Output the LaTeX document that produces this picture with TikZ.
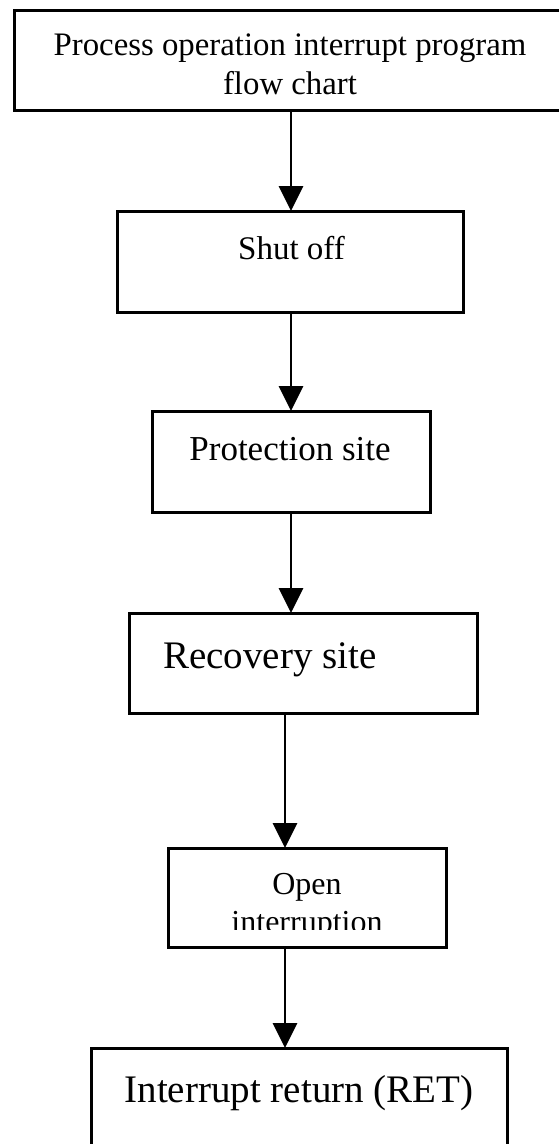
\documentclass[tikz,border=0pt]{standalone}
\usepackage{fontspec}
\setmainfont{Liberation Serif}
\usetikzlibrary{arrows.meta}

\begin{document}
\begin{tikzpicture}[x=1pt, y=1pt,
  stepbox/.style={draw, line width=3pt, inner sep=0pt, outer sep=0pt},
  flow/.style={-{Triangle[length=25pt, width=24pt]}, line width=2.8pt},
  txt/.style={anchor=base, align=center, inner sep=0pt}]

  \useasboundingbox (0,0) rectangle (559,-1144);

  %% Boxes (centre, width x height)
  \node[stepbox, minimum width=552pt, minimum height=100pt] (proc) at (290,-60) {};
  \node[stepbox, minimum width=346pt, minimum height=101pt] (shut) at (290,-261.5) {};
  \node[stepbox, minimum width=278pt, minimum height=101pt] (prot) at (291,-461.5) {};
  \node[stepbox, minimum width=348pt, minimum height=100pt] (recov) at (303,-663) {};
  \node[stepbox, minimum width=278pt, minimum height=99pt] (open) at (307,-897.5) {};
  \node[stepbox, minimum width=416pt, minimum height=112pt] (ret) at (299,-1104) {};

  %% Texts (sit in the upper part of each box; base = last line)
  \node[txt, font=\fontsize{32.8}{39}\selectfont] (proct) at (290,-94)
    {Process operation interrupt program\\flow chart};
  \node[txt, font=\fontsize{33}{38}\selectfont] (shutt) at (291.5,-259) {Shut off};
  \node[txt, font=\fontsize{35}{38}\selectfont] (prott) at (290,-460) {Protection site};
  \node[txt, font=\fontsize{39}{44}\selectfont] (recovt) at (270,-668) {Recovery site};
  % second line is cut off by the box
  \begin{scope}
    \clip (open.north west) rectangle (446,-929);
    \node[txt, font=\fontsize{32}{38}\selectfont] (opent) at (307,-932) {Open\\interruption};
  \end{scope}
  \node[txt, font=\fontsize{39}{42}\selectfont] (rett) at (299,-1102) {Interrupt return (RET)};

  %% Arrows
  \coordinate (ca) at (291,0);
  \coordinate (cb) at (285,0);
  \draw[flow] (proc.south -| ca) -- (shut.north -| ca);
  \draw[flow] (shut.south -| ca) -- (prot.north -| ca);
  \draw[flow] (prot.south -| ca) -- (recov.north -| ca);
  \draw[flow] (recov.south -| cb) -- (open.north -| cb);
  \draw[flow] (open.south -| cb) -- (ret.north -| cb);
\end{tikzpicture}
\end{document}
